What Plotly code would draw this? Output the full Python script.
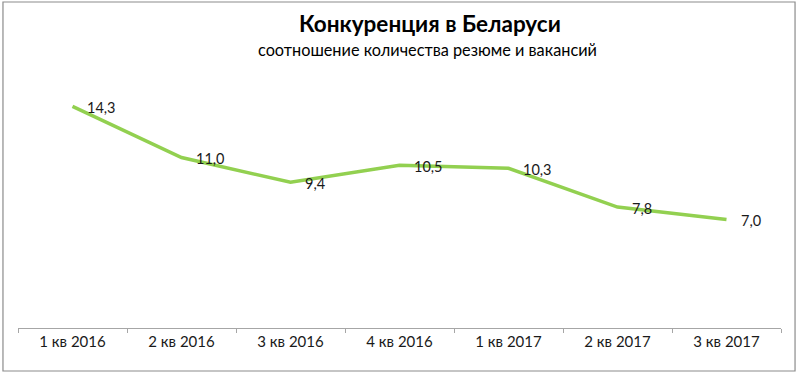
import plotly.graph_objects as go

categories = ["1 кв 2016", "2 кв 2016", "3 кв 2016", "4 кв 2016", "1 кв 2017", "2 кв 2017", "3 кв 2017"]
values = [14.3, 11.0, 9.4, 10.5, 10.3, 7.8, 7.0]
labels = [f"{v:.1f}".replace(".", ",") for v in values]

title = "Конкуренция в Беларуси"
subtitle = "соотношение количества резюме и вакансий"

FONT = "Lato, Carlito, Calibri, sans-serif"

fig = go.Figure()
fig.add_trace(go.Scatter(
    x=categories, y=values, mode="lines",
    line=dict(color="#92D050", width=3.5),
    hoverinfo="skip", showlegend=False,
))

for c, v, t in zip(categories, values, labels):
    fig.add_annotation(x=c, y=v, text=t, showarrow=False, xanchor="left",
                       yanchor="middle", xshift=12, yshift=-1,
                       font=dict(family=FONT, size=14.5, color="#1a1a1a"))

# plot area 18..781 x, 80..328 y
fig.add_annotation(xref="paper", yref="paper", x=0.54, y=(328 - 24) / 248, text="<b>" + title + "</b>",
                   showarrow=False, xanchor="center", yanchor="middle",
                   font=dict(family=FONT, size=22.5, color="#000000"))
fig.add_annotation(xref="paper", yref="paper", x=0.537, y=(328 - 49) / 248, text=subtitle,
                   showarrow=False, xanchor="center", yanchor="middle",
                   font=dict(family=FONT, size=16.3, color="#000000"))

fig.add_shape(type="rect", xref="paper", yref="paper",
              x0=-0.0197, x1=1.0184, y0=-0.1734, y1=1.3145,
              line=dict(color="#8c8c8c", width=1.2), fillcolor="rgba(0,0,0,0)", layer="below")

fig.update_layout(
    width=800, height=373,
    margin=dict(l=18, r=19, t=80, b=45),
    paper_bgcolor="white", plot_bgcolor="white",
    font=dict(family=FONT, size=15, color="#1a1a1a"),
    xaxis=dict(type="category", range=[-0.5, 6.5], showline=True, linecolor="#a6a6a6",
               linewidth=1.3, ticks="outside", tickson="boundaries", ticklen=4,
               tickcolor="#a6a6a6", showgrid=False, zeroline=False,
               tickfont=dict(family=FONT, size=15, color="#1a1a1a"), fixedrange=True),
    yaxis=dict(range=[0, 16], visible=False, showgrid=False, zeroline=False, fixedrange=True),
)

fig.write_html("out.html", config={"displayModeBar": False},
               post_script="document.body.style.margin='0';document.body.style.overflow='hidden';")
